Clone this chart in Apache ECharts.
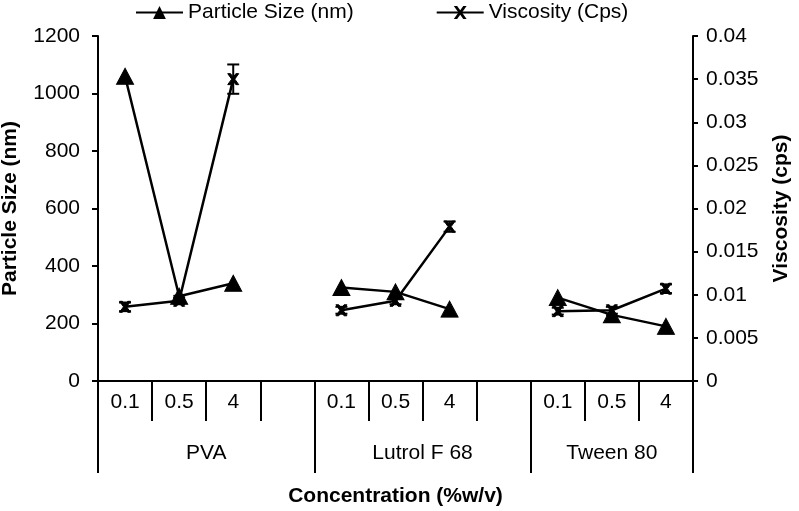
<!DOCTYPE html>
<html>
<head>
<meta charset="utf-8">
<script src="https://cdn.jsdelivr.net/npm/echarts@6/dist/echarts.min.js"></script>
<style>
html,body{margin:0;padding:0;background:#fff;}
#chart{width:799px;height:511px;}
</style>
</head>
<body>
<div id="chart"></div>
<script>
// ---- data ----
const categories = ['0.1', '0.5', '4', '', '0.1', '0.5', '4', '', '0.1', '0.5', '4'];
const groups = ['PVA', 'Lutrol F 68', 'Tween 80'];
const groupSizes = [4, 4, 3];
const particleSize = [1060, 295, 340, null, 325, 310, 250, null, 290, 230, 190];
const viscosity = [0.0086, 0.0093, 0.035, null, 0.0082, 0.0093, 0.0179, null, 0.0081, 0.0082, 0.0107];
const viscErr = [0.0005, 0.0004, 0.0017, null, 0.0004, 0.0004, 0.0006, null, 0.0004, 0.0004, 0.0005];
const leftTicks = {min: 0, max: 1200, interval: 200};
const rightTicks = {min: 0, max: 0.04, interval: 0.005};

// ---- derived ----
const groupStarts = [];
const groupLabelPos = {};
let acc = 0;
groups.forEach((g, i) => {
  groupStarts.push(acc);
  groupLabelPos[acc * 2 + groupSizes[i]] = g; // half-unit position of group centre
  acc += groupSizes[i];
});
const errData = [];
viscosity.forEach((v, i) => { if (v != null) errData.push([i, v, viscErr[i]]); });

const FONT = 'Liberation Sans, Arial, sans-serif';
const black = '#000';
const xSymbol = 'path://M0,0 L2.6,0 L5,3.3 L7.4,0 L10,0 L6.4,5 L10,10 L7.4,10 L5,6.7 L2.6,10 L0,10 L3.6,5 Z';

const chart = echarts.init(document.getElementById('chart'), null, {renderer: 'canvas'});
chart.setOption({
  backgroundColor: '#fff',
  animation: false,
  textStyle: {fontFamily: FONT, color: black},
  legend: {
    data: ['Particle Size (nm)', 'Viscosity (Cps)'],
    left: 130, top: -3,
    itemWidth: 47, itemHeight: 16, itemGap: 82,
    textStyle: {fontFamily: FONT, fontSize: 21, color: black, padding: [0, 0, 0, 0]}
  },
  grid: {left: 98, right: 106, top: 36, bottom: 130, containLabel: false, outerBoundsMode: 'none'},
  xAxis: [
    {
      type: 'category', data: categories, position: 'bottom', boundaryGap: true,
      axisLine: {show: true, lineStyle: {color: black, width: 2}},
      axisTick: {show: true, interval: 0, length: 40, lineStyle: {color: black, width: 2}},
      axisLabel: {interval: 0, margin: 11, fontSize: 21, color: black, fontFamily: FONT},
      splitLine: {show: false}
    },
    {
      type: 'category', data: categories, position: 'bottom', boundaryGap: true, offset: 0,
      axisLine: {show: false},
      axisTick: {show: true, length: 92, lineStyle: {color: black, width: 2},
        interval: function (idx) { return groupStarts.indexOf(idx) >= 0; }},
      axisLabel: {show: false},
      splitLine: {show: false}
    },
    {
      type: 'value', position: 'bottom', min: 0, max: categories.length * 2, interval: 1, offset: 0,
      axisLine: {show: false}, axisTick: {show: false}, splitLine: {show: false},
      axisLabel: {margin: 62, fontSize: 21, color: black, fontFamily: FONT, hideOverlap: false,
        showMinLabel: true, showMaxLabel: true,
        formatter: function (v) { return groupLabelPos[v] || ''; }},
      name: 'Concentration (%w/v)', nameLocation: 'middle', nameGap: 105,
      nameTextStyle: {fontSize: 21, fontWeight: 'bold', color: black, fontFamily: FONT}
    }
  ],
  yAxis: [
    {
      type: 'value', position: 'left', min: leftTicks.min, max: leftTicks.max, interval: leftTicks.interval,
      axisLine: {show: true, lineStyle: {color: black, width: 2}},
      axisTick: {show: true, length: 6, lineStyle: {color: black, width: 2}},
      axisLabel: {margin: 18, fontSize: 21, color: black, fontFamily: FONT,
        formatter: function (v) { return String(v); }},
      splitLine: {show: false},
      name: 'Particle Size (nm)', nameLocation: 'middle', nameGap: 77, nameRotate: 90,
      nameTextStyle: {fontSize: 21, fontWeight: 'bold', color: black, fontFamily: FONT}
    },
    {
      type: 'value', position: 'right', min: rightTicks.min, max: rightTicks.max, interval: rightTicks.interval,
      axisLine: {show: true, lineStyle: {color: black, width: 2}},
      axisTick: {show: true, length: 5, lineStyle: {color: black, width: 2}},
      axisLabel: {margin: 13, fontSize: 21, color: black, fontFamily: FONT},
      splitLine: {show: false},
      name: 'Viscosity (cps)', nameLocation: 'middle', nameGap: 78, nameRotate: 90,
      nameTextStyle: {fontSize: 21, fontWeight: 'bold', color: black, fontFamily: FONT}
    }
  ],
  series: [
    {
      name: 'Particle Size (nm)', type: 'line', xAxisIndex: 0, yAxisIndex: 0,
      data: particleSize, connectNulls: false,
      symbol: 'triangle', symbolSize: [17, 16], showAllSymbol: true,
      lineStyle: {color: black, width: 2.5},
      itemStyle: {color: black, borderColor: black}
    },
    {
      name: 'Viscosity (Cps)', type: 'line', xAxisIndex: 0, yAxisIndex: 1,
      data: viscosity, connectNulls: false,
      symbol: xSymbol, symbolSize: 11, showAllSymbol: true,
      lineStyle: {color: black, width: 2.5},
      itemStyle: {color: black, borderColor: black}
    },
    {
      name: 'viscErr', type: 'custom', xAxisIndex: 0, yAxisIndex: 1,
      data: errData, encode: {x: 0, y: 1},
      renderItem: function (params, api) {
        const x = api.value(0), v = api.value(1), e = api.value(2);
        const top = api.coord([x, v + e]);
        const bot = api.coord([x, v - e]);
        const hw = 6;
        const st = {stroke: black, lineWidth: 2};
        return {type: 'group', children: [
          {type: 'line', shape: {x1: top[0], y1: top[1], x2: bot[0], y2: bot[1]}, style: st},
          {type: 'line', shape: {x1: top[0] - hw, y1: top[1], x2: top[0] + hw, y2: top[1]}, style: st},
          {type: 'line', shape: {x1: bot[0] - hw, y1: bot[1], x2: bot[0] + hw, y2: bot[1]}, style: st}
        ]};
      },
      z: 3
    }
  ]
});
</script>
</body>
</html>
